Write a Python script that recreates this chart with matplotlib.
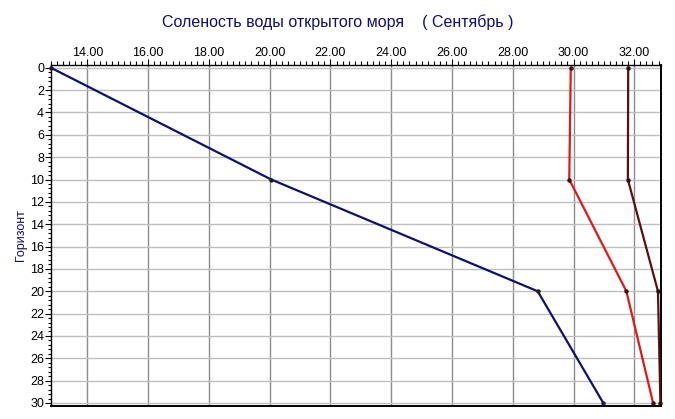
import matplotlib
matplotlib.use("Agg")
import matplotlib.pyplot as plt
from matplotlib.ticker import MultipleLocator, FormatStrFormatter

plt.rcParams['font.family'] = ['Liberation Sans', 'DejaVu Sans']

# горизонты и соленость
depth = [0, 10, 20, 30]
salt_blue = [12.80, 20.05, 28.82, 30.98]
salt_red = [29.91, 29.86, 31.74, 32.62]
salt_dark = [31.80, 31.79, 32.78, 32.86]

title = "Соленость воды открытого моря    ( Сентябрь )"
ylabel = "Горизонт"

fig = plt.figure(figsize=(6.75, 4.19), dpi=100)
ax = fig.add_axes([51 / 675, 1 - 406 / 419, 610 / 675, 341 / 419])

ax.plot(salt_blue, depth, color="#10106e", lw=1.6, marker="o", ms=2.2,
        mfc="#202020", mec="#202020", zorder=3, clip_on=False)
ax.plot(salt_red, depth, color="#e01818", lw=1.6, marker="o", ms=2.2,
        mfc="#401010", mec="#401010", zorder=3, clip_on=False)
ax.plot(salt_dark, depth, color="#5a1010", lw=1.6, marker="o", ms=2.2,
        mfc="#301010", mec="#301010", zorder=3, clip_on=False)

ax.set_xlim(12.8, 32.88)
ax.set_ylim(30.27, -0.25)

ax.xaxis.set_major_locator(MultipleLocator(2))
ax.xaxis.set_minor_locator(MultipleLocator(0.2))
ax.xaxis.set_major_formatter(FormatStrFormatter("%.2f"))
ax.yaxis.set_major_locator(MultipleLocator(2))
ax.yaxis.set_minor_locator(MultipleLocator(0.4))

ax.xaxis.tick_top()
ax.tick_params(axis="x", which="major", top=True, bottom=False, direction="out",
               length=4, width=0.8, labelsize=9, pad=0)
ax.tick_params(axis="x", which="minor", top=True, bottom=False, direction="out",
               length=3, width=0.8)
ax.tick_params(axis="y", which="major", left=True, right=False, direction="out",
               length=4, width=0.8, labelsize=9, pad=1)
ax.tick_params(axis="y", which="minor", left=True, right=False, direction="out",
               length=2.5, width=0.8)

ax.grid(axis="x", which="major", color="#8c8c8c", lw=1.0)
ax.grid(axis="y", which="major", color="#c0c0c0", lw=1.0)
ax.set_axisbelow(True)

for s in ax.spines.values():
    s.set_color("black")
    s.set_linewidth(1.0)
ax.spines["bottom"].set_linewidth(1.4)
ax.spines["right"].set_linewidth(1.4)

ax.set_ylabel(ylabel, color="#10106e", fontsize=9, labelpad=2)
fig.text(338 / 675, 1 - 22 / 419, title, ha="center", va="center",
         fontsize=11.5, color="#10106e")

fig.savefig("out.png", dpi=100)
